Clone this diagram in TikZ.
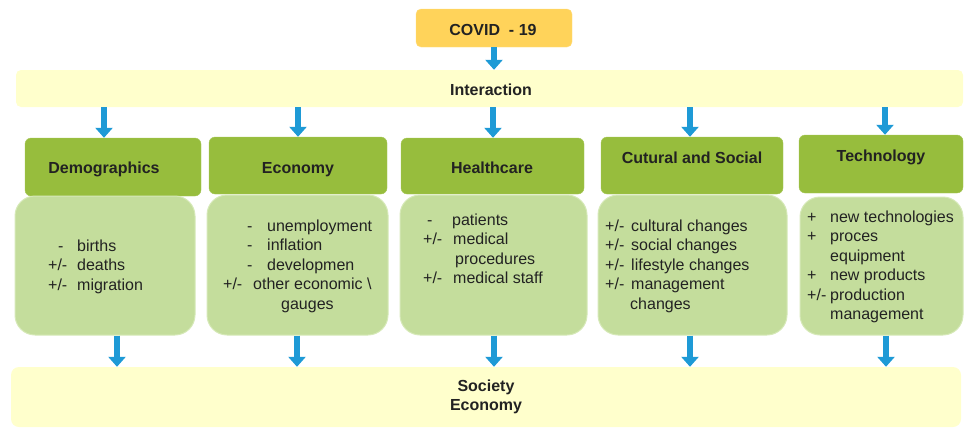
\documentclass[tikz,border=0pt]{standalone}
\usepackage{fontspec}
\setmainfont{Liberation Sans}
\usetikzlibrary{arrows.meta}
\definecolor{gold}{HTML}{FFD35A}
\definecolor{paleyel}{HTML}{FFFFCC}
\definecolor{hgreen}{HTML}{97BD3D}
\definecolor{bgreen}{HTML}{C4DD9C}
\definecolor{bgreenline}{HTML}{D6E9B8}
\definecolor{arrblue}{HTML}{1E9AD6}
\definecolor{txt}{HTML}{222222}
\newcommand\itm[3]{\makebox[#1][l]{#2}#3}
\begin{document}
\begin{tikzpicture}[x=1pt,y=-1pt,
  every node/.style={text=txt,font=\fontsize{16}{19.5}\selectfont},
  covidbox/.style={fill=gold,draw=gold!80!white,rounded corners=5pt,inner sep=0pt},
  bandbox/.style={fill=paleyel,draw=none,rounded corners=5pt,inner sep=0pt},
  headbox/.style={fill=hgreen,draw=hgreen!85!white,rounded corners=6pt,inner sep=0pt},
  bodybox/.style={fill=bgreen,draw=bgreenline,line width=1pt,rounded corners=20pt,inner sep=0pt},
  title/.style={font=\fontsize{16}{19.5}\selectfont\bfseries,anchor=base,inner sep=0pt},
  body/.style={anchor=base west,inner sep=0pt},
  arr/.style={draw=arrblue,line width=6pt,-{Triangle[width=17pt,length=10pt]}}]
\useasboundingbox (0,0) rectangle (965,429);
% boxes
\node[covidbox,minimum width=156pt,minimum height=38pt] (covid) at (494,28) {};
\node[bandbox,minimum width=947pt,minimum height=37pt] (inter) at (489.5,88.5) {};
\node[bandbox,rounded corners=8pt,minimum width=950pt,minimum height=60pt] (soc) at (486,397) {};
\node[headbox,minimum width=176pt,minimum height=58pt] (h1) at (113,167) {};
\node[headbox,minimum width=178pt,minimum height=57pt] (h2) at (298,165.5) {};
\node[headbox,minimum width=183pt,minimum height=56pt] (h3) at (492.5,166) {};
\node[headbox,minimum width=182pt,minimum height=57pt] (h4) at (692,165.5) {};
\node[headbox,minimum width=164pt,minimum height=58pt] (h5) at (881,164) {};
\node[bodybox,minimum width=180pt,minimum height=139pt] (b1) at (105,265.5) {};
\node[bodybox,minimum width=181pt,minimum height=140pt] (b2) at (297.5,265) {};
\node[bodybox,minimum width=187pt,minimum height=140pt] (b3) at (493.5,265) {};
\node[bodybox,minimum width=189pt,minimum height=140pt] (b4) at (692.5,265) {};
\node[bodybox,minimum width=163pt,minimum height=138pt] (b5) at (881.5,266) {};
% titles
\node[title] (tcovid) at (493,35) {COVID\ \ - 19};
\node[title] (tinter) at (491,95) {Interaction};
\node[title,align=center,anchor=center] (tsoc) at (486,397) {Society\\Economy};
\node[title] (t1) at (104,173) {Demographics};
\node[title] (t2) at (298,173) {Economy};
\node[title] (t3) at (492,173) {Healthcare};
\node[title] (t4) at (692,163) {Cutural and Social};
\node[title] (t5) at (881,161) {Technology};
% body texts
\node[body] (l1) at (48,251) {\begin{tabular}[t]{@{}l@{}}
\itm{29pt}{\hspace*{10pt}-}{births}\\
\itm{29pt}{+/-}{deaths}\\
\itm{29pt}{+/-}{migration}
\end{tabular}};
\node[body] (l2) at (223,231) {\begin{tabular}[t]{@{}l@{}}
\itm{44pt}{\hspace*{24pt}-}{unemployment}\\
\itm{44pt}{\hspace*{24pt}-}{inflation}\\
\itm{44pt}{\hspace*{24pt}-}{developmen}\\
\itm{30pt}{+/-}{other economic \textbackslash}\\
\hspace*{58pt}gauges
\end{tabular}};
\node[body] (l3) at (423,225) {\begin{tabular}[t]{@{}l@{}}
\itm{29pt}{\hspace*{4pt}-}{patients}\\
\itm{30pt}{+/-}{medical}\\
\hspace*{32pt}procedures\\
\itm{30pt}{+/-}{medical staff}
\end{tabular}};
\node[body] (l4) at (605,231) {\begin{tabular}[t]{@{}l@{}}
\itm{26pt}{+/-}{cultural changes}\\
\itm{26pt}{+/-}{social changes}\\
\itm{26pt}{+/-}{lifestyle changes}\\
\itm{26pt}{+/-}{management}\\
\hspace*{25pt}changes
\end{tabular}};
\node[body] (l5) at (807,222) {\begin{tabular}[t]{@{}l@{}}
\itm{23pt}{+}{new technologies}\\
\itm{23pt}{+}{proces}\\
\hspace*{23pt}equipment\\
\itm{23pt}{+}{new products}\\
\itm{23pt}{+/-}{production}\\
\hspace*{23pt}management
\end{tabular}};
% arrow x positions
\coordinate (a1) at (104,0);
\coordinate (a2) at (298,0);
\coordinate (a3) at (493,0);
\coordinate (a4) at (690,0);
\coordinate (a5) at (885,0);
\coordinate (c1) at (117,0);
\coordinate (c2) at (297,0);
\coordinate (c3) at (494,0);
\coordinate (c4) at (690,0);
\coordinate (c5) at (886,0);
% arrows
\draw[arr] (covid.south) -- (inter.north -| covid.south);
\foreach \i in {1,...,5}{
  \draw[arr] (inter.south -| a\i) -- (h\i.north -| a\i);
  \draw[arr] (b\i.south -| c\i) -- (soc.north -| c\i);
}
\end{tikzpicture}
\end{document}
